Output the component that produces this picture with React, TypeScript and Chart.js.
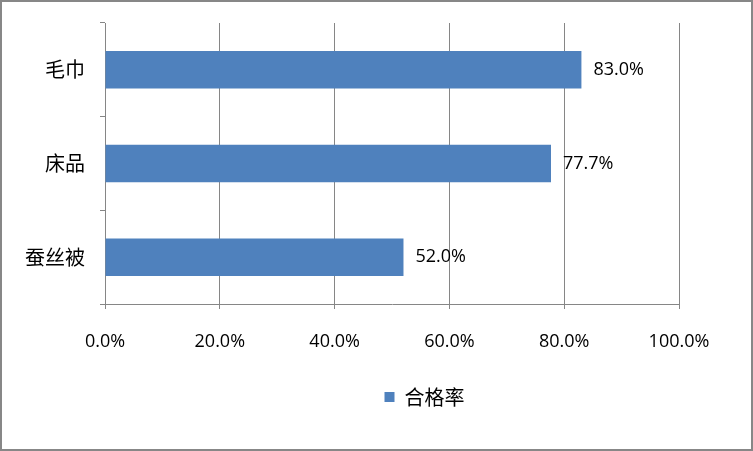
import React, { useEffect, useRef } from "react";
import { Chart, registerables } from "chart.js";

Chart.register(...registerables);

const categories = ["毛巾", "床品", "蚕丝被"];
const passRates = [83.0, 77.7, 52.0];
const seriesName = "合格率";
const xTicks = [0, 20, 40, 60, 80, 100];

const BLUE = "#4F81BD";
const GRID = "#868686";
const LATIN = "'Open Sans', 'Noto Sans CJK SC', sans-serif";
const CJK = "'Noto Sans CJK SC', sans-serif";

const valueLabels = {
  id: "valueLabels",
  afterDatasetsDraw(chart: any) {
    const ctx = chart.ctx;
    const meta = chart.getDatasetMeta(0);
    ctx.save();
    ctx.font = `18px ${LATIN}`;
    ctx.fillStyle = "#000";
    ctx.textAlign = "left";
    ctx.textBaseline = "middle";
    meta.data.forEach((el: any, i: number) => {
      ctx.fillText(passRates[i].toFixed(1) + "%", el.x + 12, el.y);
    });
    ctx.restore();
  },
};

// shift the bottom legend to the right, as in the original layout
const legendShift = {
  id: "legendShift",
  afterLayout(chart: any) {
    if (chart.legend) {
      chart.legend.left += 168;
    }
  },
};

export default function App() {
  const ref = useRef<HTMLCanvasElement>(null);
  useEffect(() => {
    document.body.style.margin = "0";
    const chart = new Chart(ref.current!, {
      type: "bar",
      data: {
        labels: categories,
        datasets: [
          {
            label: seriesName,
            data: passRates,
            backgroundColor: BLUE,
            borderWidth: 0,
            barPercentage: 0.4,
            categoryPercentage: 1,
          },
        ],
      },
      options: {
        indexAxis: "y",
        animation: false,
        responsive: false,
        maintainAspectRatio: false,
        layout: { padding: { left: 0, top: 21, right: 72, bottom: 32 } },
        plugins: {
          tooltip: { enabled: false },
          legend: {
            position: "bottom",
            labels: {
              boxWidth: 10,
              boxHeight: 10,
              padding: 10,
              color: "#000",
              font: { size: 20, family: CJK },
            },
          },
        },
        scales: {
          x: {
            min: 0,
            max: 100,
            afterBuildTicks: (scale: any) => {
              scale.ticks = xTicks.map((v) => ({ value: v }));
            },
            afterFit: (scale: any) => {
              scale.height = 73;
              scale.paddingLeft = 0;
              scale.paddingRight = 0;
            },
            ticks: {
              color: "#000",
              padding: 22,
              maxRotation: 0,
              font: { size: 18, family: LATIN },
              callback: (v: any) => Number(v).toFixed(1) + "%",
            },
            grid: {
              color: GRID,
              lineWidth: 1,
              tickLength: 5,
              drawOnChartArea: true,
            },
            border: { color: GRID, width: 1 },
          },
          y: {
            afterFit: (scale: any) => {
              scale.width = 103;
              scale.paddingTop = 0;
              scale.paddingBottom = 0;
            },
            ticks: {
              color: "#000",
              padding: 15,
              font: { size: 20, family: CJK },
            },
            grid: {
              color: GRID,
              lineWidth: 1,
              tickLength: 5,
              drawOnChartArea: false,
              offset: true,
            },
            border: { color: GRID, width: 1 },
          },
        },
      },
      plugins: [valueLabels, legendShift],
    });
    return () => chart.destroy();
  }, []);
  return (
    <div
      style={{
        position: "absolute",
        left: 0,
        top: 0,
        width: 753,
        height: 451,
        boxSizing: "border-box",
        border: "2px solid #878787",
        background: "#fff",
      }}
    >
      <canvas ref={ref} width={749} height={447} style={{ display: "block" }} />
    </div>
  );
}
